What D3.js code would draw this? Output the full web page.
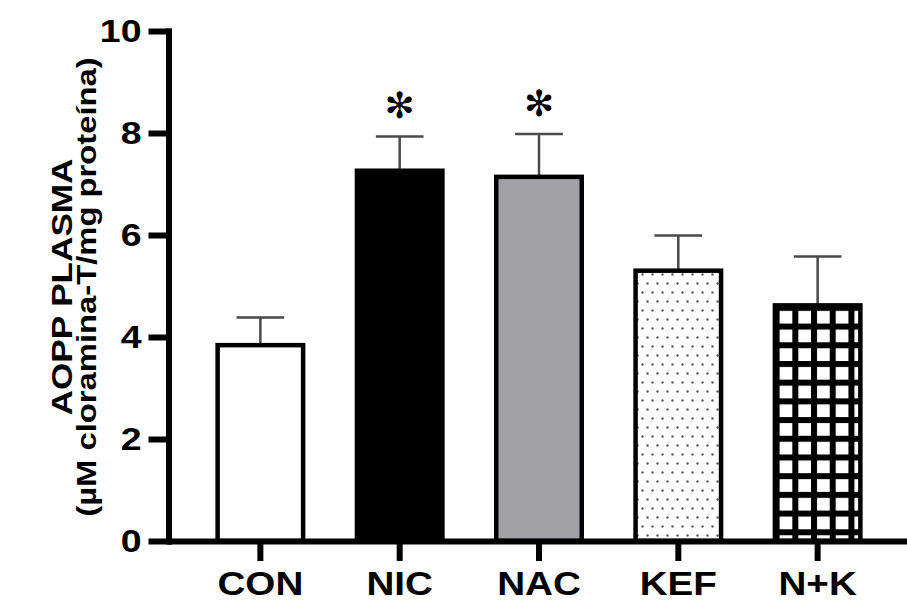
<!DOCTYPE html>
<html>
<head>
<meta charset="utf-8">
<script src="https://cdn.jsdelivr.net/npm/d3@7"></script>
<style>
  html, body { margin: 0; padding: 0; background: #fff; }
  svg { display: block; }
  text { font-family: "Liberation Sans", Arial, sans-serif; font-weight: bold; fill: #000; }
</style>
</head>
<body>
<svg id="chart" width="907" height="602"></svg>
<script>
// ---- data ----
const categories = ["CON", "NIC", "NAC", "KEF", "N+K"];
const means = [3.84, 7.26, 7.14, 5.30, 4.62];
const sems = [0.54, 0.67, 0.84, 0.69, 0.96];
const significance = ["", "*", "*", "", ""];
const yTicks = [0, 2, 4, 6, 8, 10];
const yTitle = ["AOPP PLASMA", "(µM cloramina-T/mg proteína)"];

// ---- layout ----
const svg = d3.select("#chart");
const STRETCH = 1.17;

const y = d3.scaleLinear().domain([0, 10]).range([541, 31]);
const x = d3.scaleBand().domain(categories).range([168, 910])
  .paddingInner(0.354).paddingOuter(0.34);

// patterns
const defs = svg.append("defs");
const dots = defs.append("pattern").attr("id", "dots")
  .attr("patternUnits", "userSpaceOnUse").attr("width", 10).attr("height", 18);
dots.append("rect").attr("width", 10).attr("height", 18).attr("fill", "#fff");
dots.append("circle").attr("cx", 2.5).attr("cy", 4.5).attr("r", 1.2).attr("fill", "#5e5e5e");
dots.append("circle").attr("cx", 7.5).attr("cy", 13.5).attr("r", 1.2).attr("fill", "#5e5e5e");

const per = 18.7;
const grid = defs.append("pattern").attr("id", "grid")
  .attr("patternUnits", "userSpaceOnUse").attr("width", per).attr("height", per)
  .attr("x", x("N+K") + 1).attr("y", y(means[4]) - 0.5);
grid.append("rect").attr("width", per).attr("height", per).attr("fill", "#000");
grid.append("rect").attr("x", 6).attr("y", 6).attr("width", per - 6).attr("height", per - 6).attr("fill", "#fff");

const fills = ["#ffffff", "#000000", "#a1a1a6", "url(#dots)", "url(#grid)"];

// error bars (drawn from bar top upward)
const eb = svg.append("g").attr("stroke", "#4a4a4a").attr("stroke-width", 2.5);
categories.forEach((c, i) => {
  const cx = x(c) + x.bandwidth() / 2;
  const capW = x.bandwidth() * 0.53;
  eb.append("line").attr("x1", cx).attr("x2", cx)
    .attr("y1", y(means[i])).attr("y2", y(means[i] + sems[i]));
  eb.append("line").attr("x1", cx - capW / 2).attr("x2", cx + capW / 2)
    .attr("y1", y(means[i] + sems[i])).attr("y2", y(means[i] + sems[i]));
});

// bars
svg.append("g").selectAll("rect").data(categories).join("rect")
  .attr("x", d => x(d) + 2.25)
  .attr("y", (d, i) => y(means[i]))
  .attr("width", x.bandwidth() - 4.5)
  .attr("height", (d, i) => y(0) - y(means[i]))
  .attr("fill", (d, i) => fills[i])
  .attr("stroke", "#000").attr("stroke-width", 4.5);

// significance marks
svg.append("g").selectAll("text").data(categories).join("text")
  .attr("class", "star")
  .attr("x", d => x(d) + x.bandwidth() / 2)
  .attr("y", (d, i) => y(means[i] + sems[i]) - 31)
  .attr("dy", "0.35em")
  .attr("text-anchor", "middle")
  .style("font-family", "'DejaVu Sans', sans-serif")
  .style("font-weight", "normal")
  .style("font-size", "36px")
  .text((d, i) => significance[i] ? "✻" : "");

// axes
const xAxis = svg.append("g").attr("transform", `translate(0,${y(0)})`)
  .call(d3.axisBottom(x).tickSize(20).tickSizeOuter(0).tickPadding(11));
xAxis.select(".domain").attr("stroke-width", 6).attr("stroke", "#000");
xAxis.selectAll(".tick line").attr("stroke-width", 6).attr("stroke", "#000");
xAxis.selectAll("text").style("font-size", "33px").attr("class", "stretch");

const yAxis = svg.append("g").attr("transform", `translate(168.5,0)`)
  .call(d3.axisLeft(y).tickValues(yTicks).tickSize(20).tickSizeOuter(0).tickPadding(7));
yAxis.select(".domain").attr("stroke-width", 6).attr("stroke", "#000").attr("stroke-linecap", "square");
yAxis.selectAll(".tick line").attr("stroke-width", 6).attr("stroke", "#000").attr("x2", -20).attr("x1", 3);
yAxis.selectAll("text").style("font-size", "32px").attr("class", "stretch");

// y title
const yt = svg.append("g").attr("transform", "translate(0,287) rotate(-90)");
yt.append("text").attr("class", "stretch").attr("x", 0).attr("y", 72)
  .attr("text-anchor", "middle").style("font-size", "30px").text(yTitle[0]);
yt.append("text").attr("class", "stretch").attr("x", 0).attr("y", 96)
  .attr("text-anchor", "middle").style("font-size", "28px").text(yTitle[1]);

// horizontally widen text to match the reference's wide sans
svg.selectAll("text.stretch").each(function () {
  const len = this.getComputedTextLength();
  d3.select(this).attr("textLength", len * STRETCH).attr("lengthAdjust", "spacingAndGlyphs");
});
</script>
</body>
</html>
